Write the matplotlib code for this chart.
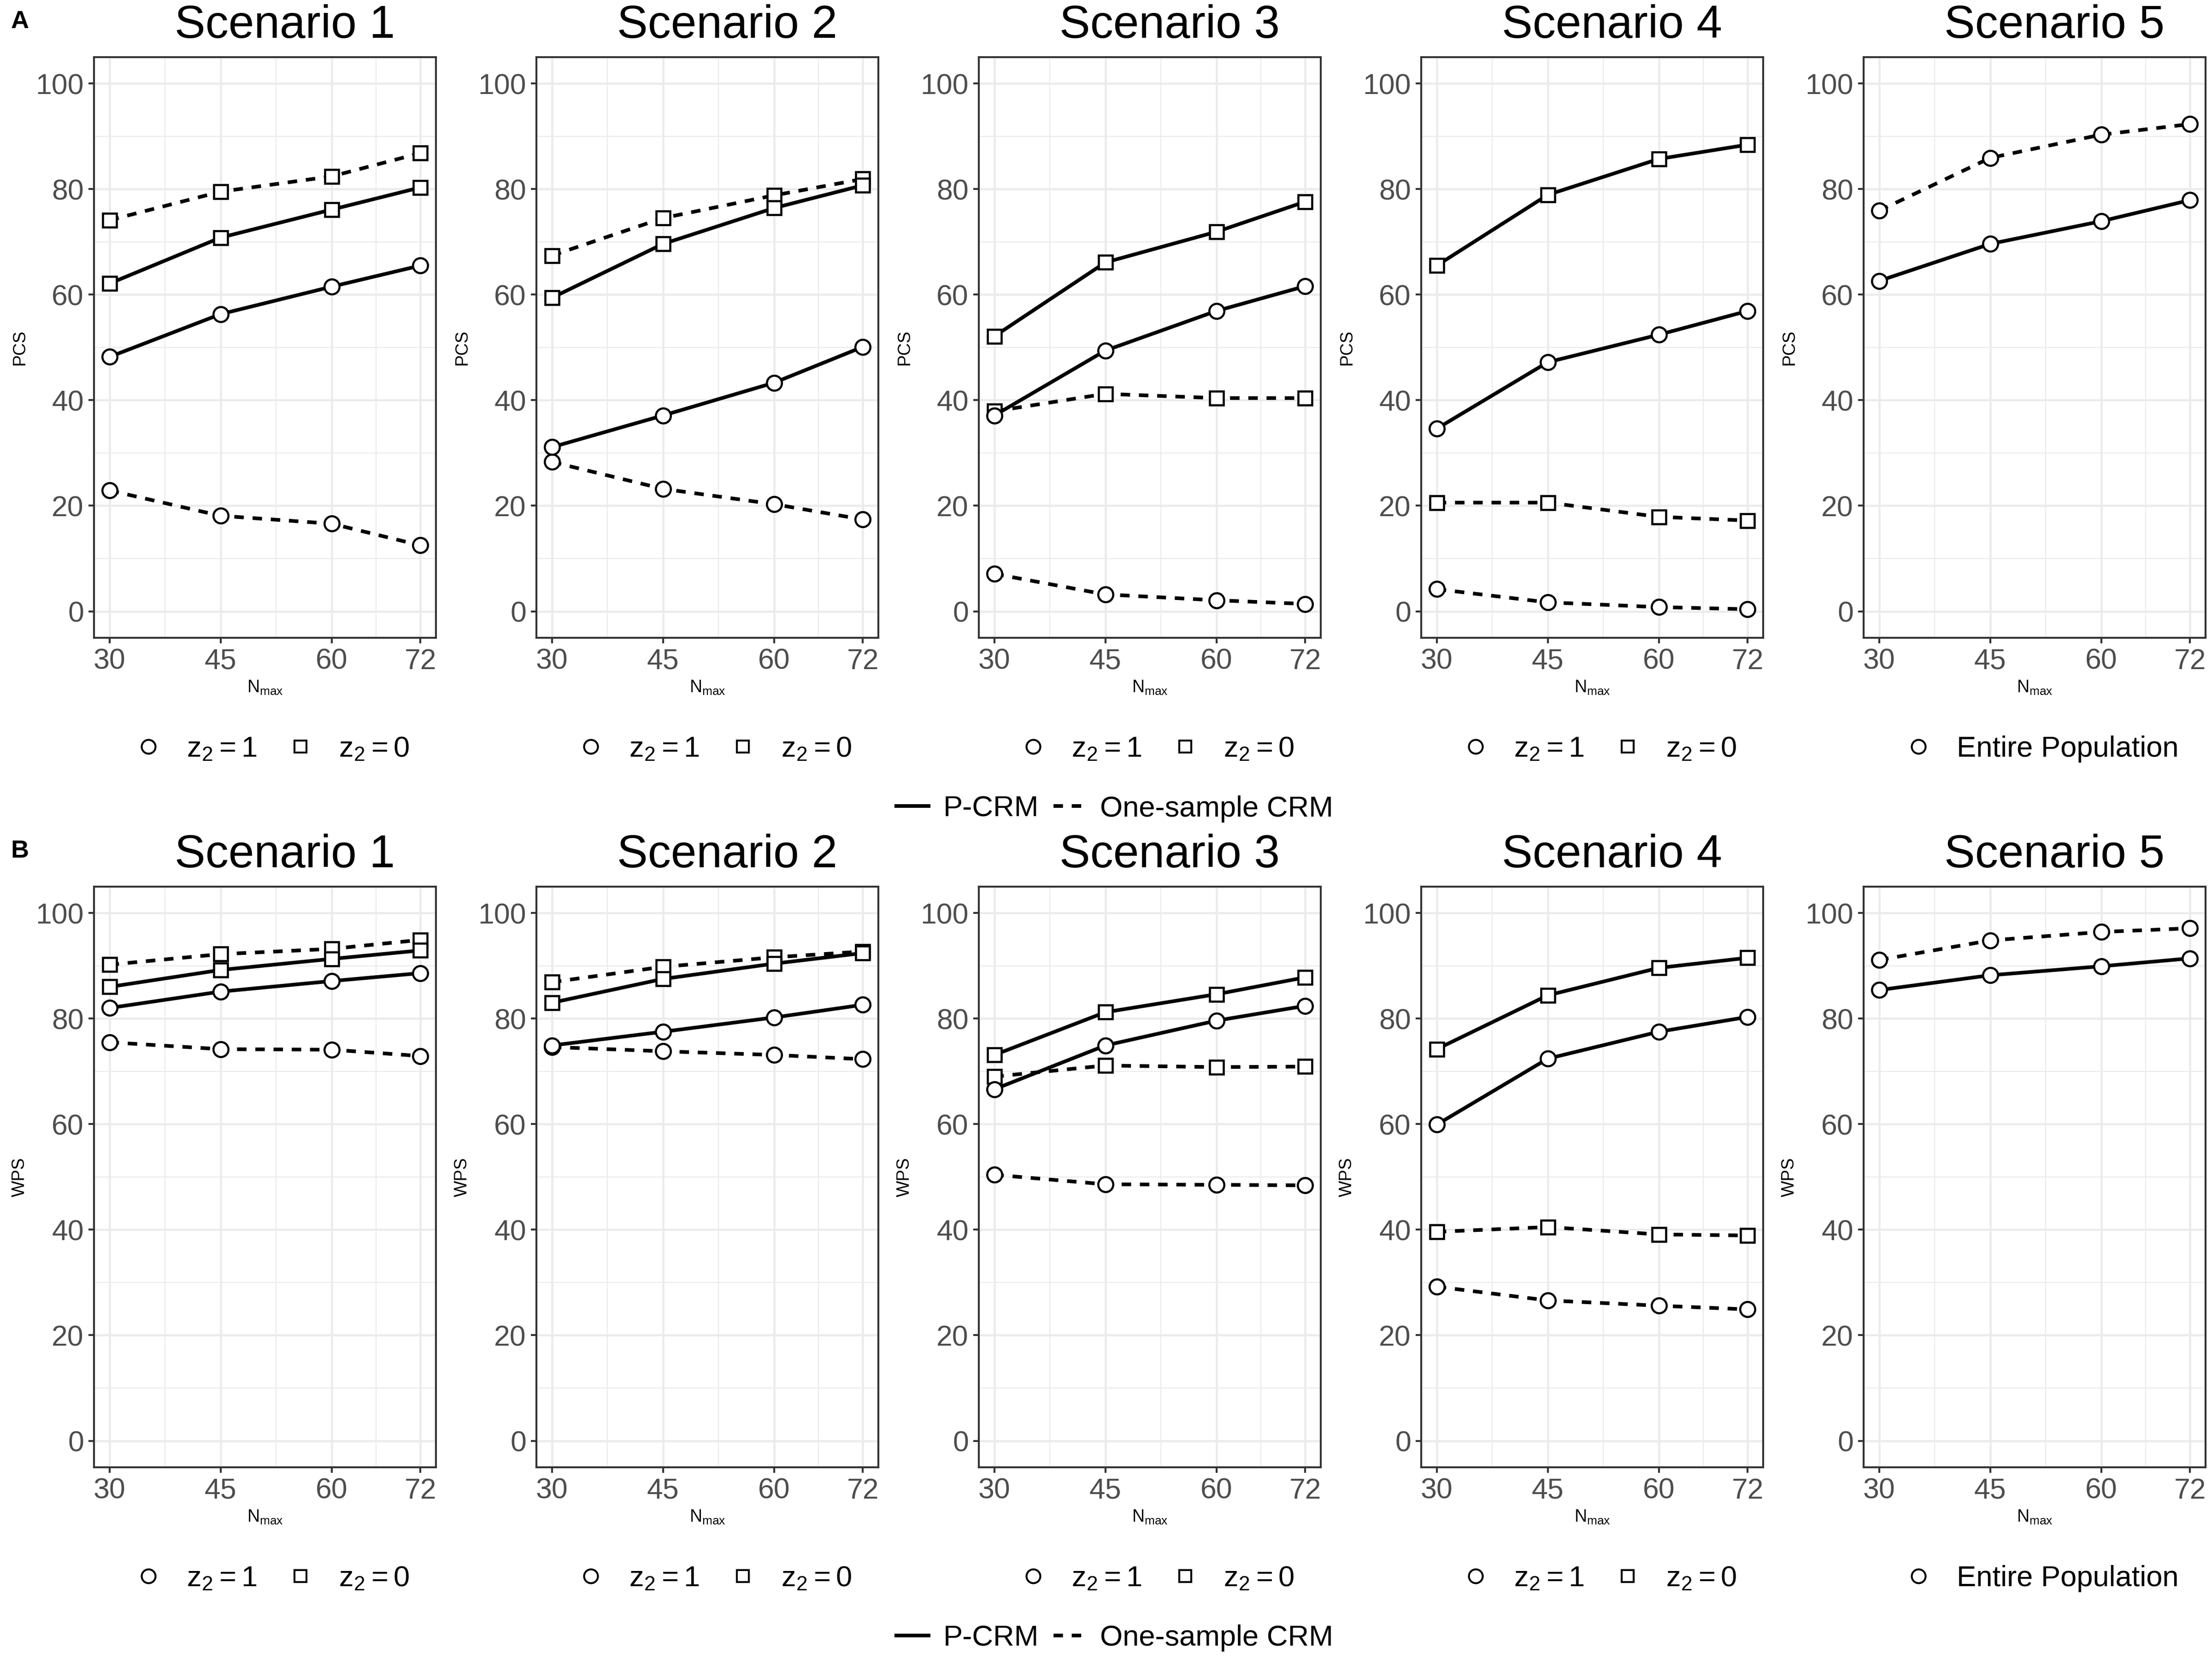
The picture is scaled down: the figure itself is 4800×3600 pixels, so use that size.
import matplotlib
matplotlib.use("Agg")
import matplotlib.pyplot as plt
from matplotlib.lines import Line2D

plt.rcParams['font.family'] = ['Liberation Sans', 'DejaVu Sans']
plt.rcParams['mathtext.fontset'] = 'custom'
plt.rcParams['mathtext.rm'] = 'Liberation Sans'
plt.rcParams['mathtext.it'] = 'Liberation Sans:italic'

# maximum sample size on the x axis
n_max = [30, 45, 60, 72]
scenarios = ["Scenario 1", "Scenario 2", "Scenario 3", "Scenario 4", "Scenario 5"]

# PCS, scenarios 1-4, one row per scenario
pcs_pcrm_z1 = [[48.2, 56.3, 61.5, 65.5], [31.1, 37.1, 43.3, 50.1],
               [37.1, 49.4, 56.9, 61.6], [34.6, 47.2, 52.4, 56.9]]
pcs_pcrm_z0 = [[62.1, 70.8, 76.1, 80.3], [59.4, 69.6, 76.4, 80.7],
               [52.1, 66.1, 71.9, 77.6], [65.5, 78.9, 85.7, 88.4]]
pcs_crm_z1 = [[22.9, 18.1, 16.6, 12.5], [28.3, 23.2, 20.3, 17.4],
              [7.1, 3.2, 2.1, 1.4], [4.2, 1.7, 0.8, 0.4]]
pcs_crm_z0 = [[74.1, 79.5, 82.4, 86.8], [67.4, 74.5, 78.8, 81.9],
              [37.9, 41.2, 40.4, 40.4], [20.6, 20.6, 17.9, 17.2]]
# PCS, scenario 5 (entire population)
pcs_pcrm_all = [62.6, 69.6, 73.9, 77.9]
pcs_crm_all = [75.9, 85.9, 90.3, 92.3]

# WPS, scenarios 1-4
wps_pcrm_z1 = [[82.0, 85.1, 87.1, 88.6], [74.9, 77.5, 80.2, 82.6],
               [66.6, 74.9, 79.6, 82.4], [59.9, 72.4, 77.5, 80.3]]
wps_pcrm_z0 = [[86.0, 89.2, 91.3, 92.9], [83.0, 87.5, 90.4, 92.4],
               [73.1, 81.2, 84.6, 87.8], [74.2, 84.4, 89.6, 91.5]]
wps_crm_z1 = [[75.5, 74.2, 74.1, 72.9], [74.6, 73.8, 73.1, 72.3],
              [50.4, 48.6, 48.5, 48.4], [29.2, 26.6, 25.6, 24.9]]
wps_crm_z0 = [[90.2, 92.2, 93.2, 94.9], [86.9, 89.8, 91.6, 92.7],
              [69.0, 71.1, 70.8, 70.9], [39.6, 40.5, 39.1, 38.9]]
# WPS, scenario 5
wps_pcrm_all = [85.4, 88.2, 89.9, 91.4]
wps_crm_all = [91.1, 94.8, 96.4, 97.1]

SOLID = '-'
DASHED = (0, (2.6, 2.4))
LW = 1.9
GRID = '#EBEBEB'
DARK = '#333333'


def draw_series(ax, values, marker, ls):
    ms = 7.8 if marker == 'o' else 7.0
    ax.plot(n_max, values, color='black', lw=LW, ls=ls, zorder=2)
    ax.plot(n_max, values, ls='none', marker=marker, ms=ms, mfc='white',
            mec='black', mew=1.1, zorder=3)


def style_axes(ax, ylabel):
    ax.set_xlim(27.9, 74.1)
    ax.set_ylim(-5, 105)
    ax.set_xticks(n_max)
    ax.set_xticks([37.5, 52.5, 66], minor=True)
    ax.set_yticks(range(0, 101, 20))
    ax.set_yticks(range(10, 100, 20), minor=True)
    ax.grid(which='major', color=GRID, lw=1.1)
    ax.grid(which='minor', color=GRID, lw=0.55)
    ax.set_axisbelow(True)
    for s in ax.spines.values():
        s.set_color(DARK)
        s.set_linewidth(1.0)
    ax.tick_params(which='major', labelsize=15, labelcolor='#4D4D4D',
                   color=DARK, width=1.0, length=2.8, pad=2.5)
    ax.tick_params(which='minor', length=0)
    ax.set_ylabel(ylabel, fontsize=9, labelpad=4)
    ax.set_xlabel(r"N$_{\rm max}$", fontsize=9, labelpad=2)


fig = plt.figure(figsize=(16, 12), dpi=300)

lefts = [0.0425 + 0.2 * i for i in range(5)]
width = 0.1546
rows = [
    dict(label="A", metric="PCS", bottom=0.6156, title_y=0.9845, leg_y=0.5485,
         main_leg_y=0.5125, label_y=0.987,
         z1=pcs_pcrm_z1, z0=pcs_pcrm_z0, c1=pcs_crm_z1, c0=pcs_crm_z0,
         p_all=pcs_pcrm_all, c_all=pcs_crm_all),
    dict(label="B", metric="WPS", bottom=0.1156, title_y=0.4845, leg_y=0.0485,
         main_leg_y=0.0125, label_y=0.487,
         z1=wps_pcrm_z1, z0=wps_pcrm_z0, c1=wps_crm_z1, c0=wps_crm_z0,
         p_all=wps_pcrm_all, c_all=wps_crm_all),
]

circle_key = Line2D([], [], ls='none', marker='o', ms=7.2, mfc='white', mec='black', mew=1.0)
square_key = Line2D([], [], ls='none', marker='s', ms=6.4, mfc='white', mec='black', mew=1.0)

for row in rows:
    for i, name in enumerate(scenarios):
        ax = fig.add_axes([lefts[i], row['bottom'], width, 0.35])
        if i < 4:
            draw_series(ax, row['c0'][i], 's', DASHED)
            draw_series(ax, row['c1'][i], 'o', DASHED)
            draw_series(ax, row['z0'][i], 's', SOLID)
            draw_series(ax, row['z1'][i], 'o', SOLID)
            handles = [circle_key, square_key]
            labels = [r"z$_2$$\:$=$\:$1", r"z$_2$$\:$=$\:$0"]
        else:
            draw_series(ax, row['c_all'], 'o', DASHED)
            draw_series(ax, row['p_all'], 'o', SOLID)
            handles = [circle_key]
            labels = ["Entire Population"]
        style_axes(ax, row['metric'])
        cx = lefts[i] + width / 2
        fig.text(cx + 0.009, row['title_y'], name, fontsize=24, ha='center', va='center')
        fig.legend(handles, labels, loc='center', ncol=2, frameon=False,
                   bbox_to_anchor=(cx + 0.003, row['leg_y']), fontsize=15.2,
                   handlelength=1.0, handletextpad=0.8, columnspacing=1.0)

    fig.text(0.009, row['label_y'], row['label'], fontsize=13, fontweight='bold',
             ha='center', va='center')
    line_keys = [Line2D([], [], color='black', lw=LW, ls=SOLID),
                 Line2D([], [], color='black', lw=LW, ls=DASHED)]
    fig.legend(line_keys, ["P-CRM", "One-sample CRM"], loc='center', ncol=2,
               frameon=False, bbox_to_anchor=(0.504, row['main_leg_y']),
               fontsize=15.2, handlelength=1.1, handletextpad=0.5, columnspacing=0.5)

fig.savefig("out.png", dpi=300, facecolor='white')
